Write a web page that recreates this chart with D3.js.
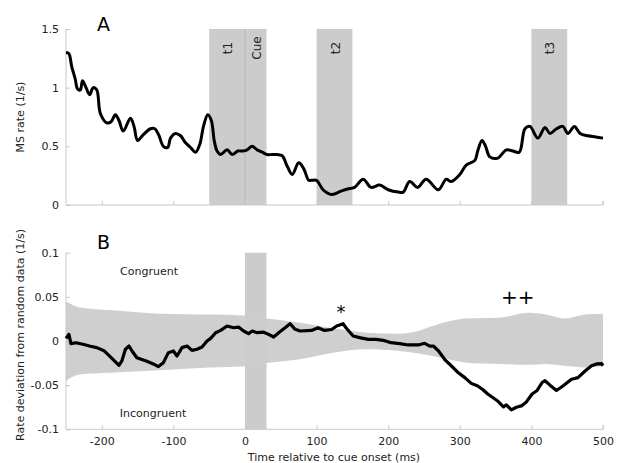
<!DOCTYPE html>
<html>
<head>
<meta charset="utf-8">
<script src="https://cdn.jsdelivr.net/npm/d3@7"></script>
<style>
  body { margin: 0; background: #fff; }
  svg { font-family: "DejaVu Sans", Verdana, sans-serif; }
</style>
</head>
<body>
<script>
/* Data */

// panel A: microsaccade rate
var rateT = [-250, -246, -242, -237, -234, -230, -227, -222, -217, -212, -207, -202, -193, -187, -181, -176, -170, -160, -155, -150, -142, -132, -126, -120, -114, -108, -104, -97, -90, -83, -76, -69, -63, -58, -52, -47, -43, -39, -34, -25, -18, -10, -3, 3, 10, 17, 24, 31, 38, 45, 52, 59, 66, 75, 82, 89, 93, 100, 109, 121, 135, 146, 153, 165, 176, 188, 200, 214, 221, 230, 241, 253, 270, 281, 288, 300, 309, 321, 325, 331, 336, 342, 353, 365, 374, 383, 391, 398, 409, 419, 426, 435, 444, 451, 460, 468, 479, 490, 500];
var rateV = [1.30, 1.29, 1.18, 1.07, 0.99, 0.98, 1.06, 1.00, 0.94, 1.00, 0.98, 0.78, 0.70, 0.71, 0.77, 0.72, 0.63, 0.74, 0.67, 0.55, 0.60, 0.65, 0.65, 0.59, 0.50, 0.49, 0.57, 0.61, 0.59, 0.53, 0.49, 0.45, 0.52, 0.67, 0.77, 0.72, 0.55, 0.46, 0.43, 0.47, 0.43, 0.46, 0.46, 0.47, 0.50, 0.47, 0.45, 0.43, 0.43, 0.43, 0.42, 0.33, 0.26, 0.36, 0.31, 0.21, 0.21, 0.21, 0.13, 0.09, 0.12, 0.14, 0.15, 0.22, 0.15, 0.17, 0.13, 0.11, 0.11, 0.20, 0.15, 0.22, 0.13, 0.22, 0.20, 0.26, 0.34, 0.38, 0.46, 0.55, 0.50, 0.41, 0.40, 0.47, 0.46, 0.45, 0.65, 0.67, 0.57, 0.66, 0.61, 0.65, 0.67, 0.61, 0.67, 0.61, 0.59, 0.58, 0.57];

// panel B: deviation from random data
var devT = [-250, -246, -243, -236, -225, -216, -207, -197, -188, -176, -172, -167, -162, -158, -151, -144, -137, -128, -121, -114, -107, -100, -95, -88, -81, -74, -67, -60, -53, -48, -41, -34, -25, -16, -9, -2, 5, 10, 17, 26, 33, 40, 47, 56, 63, 70, 77, 93, 102, 111, 121, 128, 137, 141, 151, 160, 172, 183, 193, 204, 216, 228, 242, 251, 258, 263, 270, 279, 288, 298, 307, 316, 325, 332, 339, 346, 353, 361, 365, 372, 379, 386, 393, 401, 408, 415, 419, 426, 435, 444, 456, 465, 475, 484, 491, 498, 500];
var devV = [0.003, 0.0075, -0.003, -0.002, -0.004, -0.006, -0.0075, -0.011, -0.018, -0.0275, -0.0226, -0.0094, -0.0057, -0.011, -0.019, -0.021, -0.023, -0.026, -0.029, -0.0245, -0.0132, -0.0113, -0.017, -0.0075, -0.0057, -0.0106, -0.0094, -0.0068, 0.0, 0.003, 0.0094, 0.012, 0.017, 0.015, 0.0158, 0.0113, 0.0083, 0.0113, 0.0094, 0.010, 0.0075, 0.0045, 0.0094, 0.015, 0.0196, 0.0132, 0.0113, 0.012, 0.015, 0.012, 0.013, 0.017, 0.0196, 0.015, 0.0057, 0.0038, 0.0019, 0.0019, 0.0008, -0.0019, -0.003, -0.0045, -0.0045, -0.0026, -0.0057, -0.0057, -0.011, -0.021, -0.028, -0.036, -0.0415, -0.048, -0.051, -0.055, -0.060, -0.064, -0.068, -0.0747, -0.0724, -0.078, -0.075, -0.0735, -0.069, -0.060, -0.056, -0.047, -0.045, -0.050, -0.056, -0.051, -0.0434, -0.0415, -0.034, -0.028, -0.026, -0.0256, -0.028];

// panel B: random-data band
var bandT = [-250, -231, -189, -119, -49, -3, 31, 77, 123, 169, 216, 240, 262, 286, 309, 356, 396, 420, 446, 475, 500];
var bandHi = [0.045, 0.038, 0.035, 0.031, 0.030, 0.029, 0.0255, 0.0207, 0.0143, 0.0094, 0.0083, 0.011, 0.017, 0.0226, 0.0256, 0.0264, 0.032, 0.030, 0.0256, 0.030, 0.031];
var bandLo = [-0.045, -0.038, -0.036, -0.033, -0.030, -0.029, -0.025, -0.0207, -0.0132, -0.0094, -0.0113, -0.014, -0.017, -0.021, -0.0245, -0.026, -0.027, -0.026, -0.028, -0.030, -0.029];

// analysis windows
var windows = [
  {label: "t1", from: -50, to: 0},
  {label: "Cue", from: 0, to: 30},
  {label: "t2", from: 100, to: 150},
  {label: "t3", from: 400, to: 450}
];

var xTicks = [-200, -100, 0, 100, 200, 300, 400, 500];
var yTicksA = [0, 0.5, 1, 1.5];
var yTicksB = [-0.1, -0.05, 0, 0.05, 0.1];


/* Build chart */

var width = 622, height = 463;
var grey = "#cccccc", axisCol = "#c8c8c8";

var svg = d3.select("body").append("svg")
    .attr("width", width)
    .attr("height", height);

var x = d3.scaleLinear().domain([-250, 500]).range([66, 603]);
var yA = d3.scaleLinear().domain([0, 1.5]).range([205, 29]);
var yB = d3.scaleLinear().domain([-0.1, 0.1]).range([429.3, 252.7]);

// matlab style labels: plain hyphen for minus
var fmt = function(d) { return String(d); };

function drawAxes(g, y, yTicks, showXLabels) {
    var xAxis = d3.axisBottom(x).tickValues(xTicks).tickSize(-4).tickPadding(8)
        .tickFormat(showXLabels ? fmt : "");
    var gx = g.append("g")
        .attr("transform", "translate(0," + y.range()[0] + ")")
        .call(xAxis);
    var yAxis = d3.axisLeft(y).tickValues(yTicks).tickSize(-4).tickPadding(7)
        .tickFormat(fmt);
    var gy = g.append("g")
        .attr("transform", "translate(" + x.range()[0] + ",0)")
        .call(yAxis);
    [gx, gy].forEach(function(a) {
        a.select(".domain").attr("stroke", axisCol);
        a.selectAll(".tick line").attr("stroke", axisCol);
        a.selectAll("text").attr("font-size", 11).attr("fill", "#222")
            .attr("font-family", "DejaVu Sans, Verdana, sans-serif");
    });
    gx.select(".domain").attr("d", "M" + x.range()[0] + ",0H" + x.range()[1] + "V-4");
    gy.select(".domain").attr("d", "M0," + y.range()[0] + "V" + y.range()[1]);
}

/* Panel A */
var gA = svg.append("g");

gA.selectAll("rect.win")
    .data(windows)
    .enter().append("rect")
    .attr("class", "win")
    .attr("x", function(d) { return x(d.from); })
    .attr("width", function(d) { return x(d.to) - x(d.from); })
    .attr("y", yA(1.5))
    .attr("height", yA(0) - yA(1.5))
    .attr("fill", grey);

gA.append("line")
    .attr("x1", x(0)).attr("x2", x(0))
    .attr("y1", yA(1.5)).attr("y2", yA(0))
    .attr("stroke", "#b5b5b5").attr("stroke-width", 1);

gA.selectAll("text.win")
    .data(windows)
    .enter().append("text")
    .attr("class", "win")
    .attr("transform", function(d) {
        return "translate(" + (x((d.from + d.to) / 2) + 5) + "," + (yA(1.5) + 19) + ") rotate(-90)";
    })
    .attr("text-anchor", "middle")
    .attr("font-size", 12)
    .attr("fill", "#222")
    .text(function(d) { return d.label; });

drawAxes(gA, yA, yTicksA, false);

gA.append("path")
    .datum(d3.zip(rateT, rateV))
    .attr("fill", "none")
    .attr("stroke", "#000")
    .attr("stroke-width", 3)
    .attr("stroke-linejoin", "round")
    .attr("d", d3.line().x(function(d) { return x(d[0]); }).y(function(d) { return yA(d[1]); }).curve(d3.curveCatmullRom));

gA.append("text").attr("x", 97).attr("y", 31).attr("font-size", 19).text("A");

gA.append("text")
    .attr("transform", "translate(24," + yA(0.75) + ") rotate(-90)")
    .attr("text-anchor", "middle")
    .attr("font-size", 11)
    .attr("fill", "#222")
    .text("MS rate (1/s)");

/* Panel B */
var gB = svg.append("g");

gB.append("rect")
    .attr("x", x(0))
    .attr("width", x(30) - x(0))
    .attr("y", yB(0.1))
    .attr("height", yB(-0.1) - yB(0.1))
    .attr("fill", grey);

var band = d3.range(bandT.length).map(function(i) { return [bandT[i], bandLo[i], bandHi[i]]; });
gB.append("path")
    .datum(band)
    .attr("fill", grey)
    .attr("opacity", 0.95)
    .attr("d", d3.area()
        .x(function(d) { return x(d[0]); })
        .y0(function(d) { return yB(d[1]); })
        .y1(function(d) { return yB(d[2]); })
        .curve(d3.curveMonotoneX));

drawAxes(gB, yB, yTicksB, true);

gB.append("path")
    .datum(d3.zip(devT, devV))
    .attr("fill", "none")
    .attr("stroke", "#000")
    .attr("stroke-width", 3.2)
    .attr("stroke-linejoin", "round")
    .attr("d", d3.line().x(function(d) { return x(d[0]); }).y(function(d) { return yB(d[1]); }));

gB.append("text").attr("x", 97).attr("y", 249).attr("font-size", 19).text("B");

gB.append("text").attr("x", 149).attr("y", 275).attr("text-anchor", "middle")
    .attr("font-size", 11).attr("fill", "#222").text("Congruent");
gB.append("text").attr("x", 153).attr("y", 417).attr("text-anchor", "middle")
    .attr("font-size", 11).attr("fill", "#222").text("Incongruent");

gB.append("text").attr("x", x(134)).attr("y", 318).attr("text-anchor", "middle")
    .attr("font-size", 18).text("*");
gB.append("text").attr("x", x(381)).attr("y", 304).attr("text-anchor", "middle")
    .attr("font-size", 20).text("++");

gB.append("text")
    .attr("transform", "translate(24,335) rotate(-90)")
    .attr("text-anchor", "middle")
    .attr("font-size", 11)
    .attr("fill", "#222")
    .text("Rate deviation from random data (1/s)");

svg.append("text")
    .attr("x", 334).attr("y", 461)
    .attr("text-anchor", "middle")
    .attr("font-size", 11)
    .attr("fill", "#222")
    .text("Time relative to cue onset (ms)");
</script>
</body>
</html>
